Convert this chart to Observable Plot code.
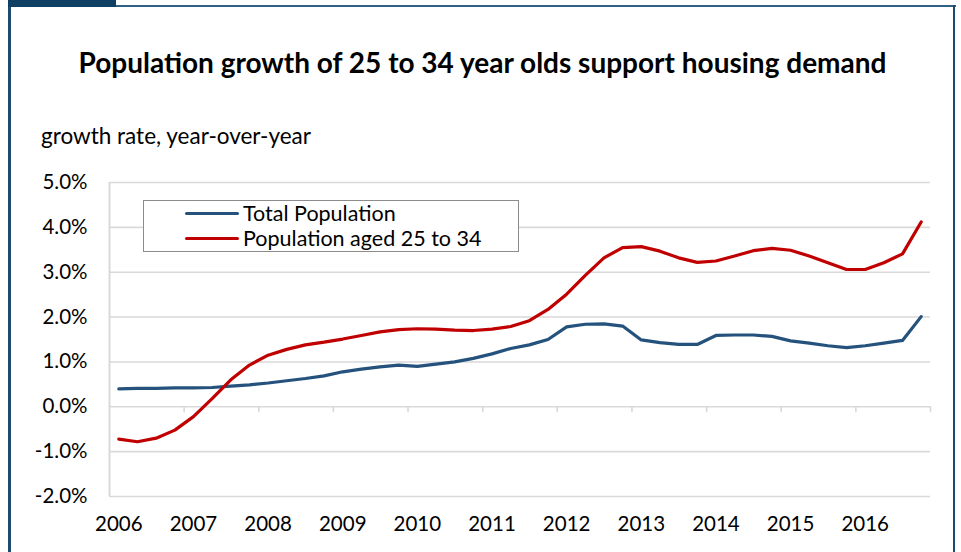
<!DOCTYPE html>
<html>
<head>
<meta charset="utf-8">
<script src="https://cdn.jsdelivr.net/npm/d3@7"></script>
<script src="https://cdn.jsdelivr.net/npm/@observablehq/plot@0.6"></script>
<style>
  html, body { margin: 0; padding: 0; background: #fff; }
  #wrap { position: relative; width: 961px; height: 552px; overflow: hidden; font-family: Lato, "Open Sans", sans-serif; color: #000; }
  #wrap svg { position: absolute; left: 0; top: 0; }
  .frame-left { position: absolute; left: 8px; top: 5px; width: 3px; height: 560px; background: #1d4b6f; }
  .frame-top { position: absolute; left: 8px; top: 5px; width: 948px; height: 2px; background: #2f6186; }
  .frame-right { position: absolute; left: 953px; top: 5px; width: 2px; height: 560px; background: #1d4b6f; }
  .tab { position: absolute; left: 8px; top: 0; width: 108px; height: 7px; background: #0f3f63; }
  #title { position: absolute; left: 20px; width: 925px; top: 45px; text-align: center; font-weight: 700; font-size: 28px; white-space: nowrap; }
  #ylabel { position: absolute; left: 41px; top: 122px; font-size: 22.5px; white-space: nowrap; }
  #legend { position: absolute; left: 143px; top: 200px; width: 376px; height: 52px; border: 1px solid #8c8c8c; background: #fff; box-sizing: border-box; }
  .lg { position: absolute; left: 41px; font-size: 21.5px; line-height: 24px; display: flex; align-items: center; white-space: nowrap; }
  .lg span.sw { display: inline-block; width: 54px; height: 3px; margin-right: 4px; border-radius: 2px; }
</style>
</head>
<body>
<div id="wrap">
  <div class="frame-left"></div>
  <div class="frame-top"></div>
  <div class="frame-right"></div>
  <div class="tab"></div>
  <div id="title">Population growth of 25 to 34 year olds support housing demand</div>
  <div id="ylabel">growth rate, year-over-year</div>
</div>
<script>
// Tick labels
const years = ["2006","2007","2008","2009","2010","2011","2012","2013","2014","2015","2016"];
const yTicks = [-2, -1, 0, 1, 2, 3, 4, 5];
const seriesNames = ["Total Population", "Population aged 25 to 34"];
const seriesColors = ["#24527c", "#c00000"];

// Quarterly growth rates (%), 2006Q1 .. 2016Q4
const totalPopulation = [
  0.40, 0.41, 0.41, 0.42, 0.42, 0.43, 0.46, 0.49, 0.53, 0.58, 0.63,
  0.69, 0.78, 0.84, 0.89, 0.93, 0.90, 0.95, 1.00, 1.08, 1.18, 1.30,
  1.38, 1.50, 1.78, 1.84, 1.85, 1.80, 1.49, 1.43, 1.39, 1.39, 1.59,
  1.60, 1.60, 1.57, 1.47, 1.42, 1.36, 1.32, 1.36, 1.42, 1.48, 2.01
];
const aged25to34 = [
  -0.72, -0.78, -0.70, -0.52, -0.22, 0.18, 0.60, 0.93, 1.15, 1.28, 1.38,
  1.44, 1.51, 1.59, 1.67, 1.72, 1.74, 1.73, 1.71, 1.70, 1.73, 1.79,
  1.92, 2.17, 2.51, 2.93, 3.32, 3.55, 3.57, 3.47, 3.32, 3.22, 3.25,
  3.36, 3.48, 3.53, 3.49, 3.36, 3.21, 3.06, 3.06, 3.21, 3.41, 4.12
];

const rows = [];
totalPopulation.forEach((v, i) => rows.push({i, value: v, series: seriesNames[0]}));
aged25to34.forEach((v, i) => rows.push({i, value: v, series: seriesNames[1]}));

const nQ = totalPopulation.length;
const boundaries = d3.range(nQ / 4 + 1).map(k => k * 4 - 0.5);
const labelPos = years.map((y, k) => k * 4);

const chart = Plot.plot({
  width: 961,
  height: 552,
  marginLeft: 109,
  marginRight: 31,
  marginTop: 182,
  marginBottom: 56,
  style: { fontFamily: "Lato, 'Open Sans', sans-serif", background: "transparent", color: "#000" },
  x: { domain: [-0.5, nQ - 0.5], axis: null },
  y: { domain: [-2, 5], axis: null },
  color: { domain: seriesNames, range: seriesColors },
  marks: [
    Plot.ruleY(yTicks, { stroke: "#d9d9d9", strokeWidth: 1.6 }),
    Plot.ruleX([-0.5], { stroke: "#d9d9d9", strokeWidth: 2 }),
    Plot.ruleX(boundaries.slice(1), { y1: 0, y2: 0, insetBottom: -6, stroke: "#d9d9d9", strokeWidth: 1.6 }),
    Plot.axisY(yTicks, { label: null, tickSize: 0, tickPadding: 22, tickFormat: d => d.toFixed(1) + "%", fontSize: 20.5 }),
    Plot.axisX(labelPos, { label: null, tickSize: 0, tickPadding: 20, tickFormat: (d, k) => years[k], fontSize: 20.5 }),
    Plot.line(rows, { x: "i", y: "value", stroke: "series", z: "series", strokeWidth: 3.2, strokeLinejoin: "round", strokeLinecap: "round" })
  ]
});
document.getElementById("wrap").appendChild(chart);

// Legend
const legend = document.createElement("div");
legend.id = "legend";
seriesNames.forEach((name, k) => {
  const item = document.createElement("div");
  item.className = "lg";
  item.style.top = (k === 0 ? 0 : 25) + "px";
  const sw = document.createElement("span");
  sw.className = "sw";
  sw.style.background = seriesColors[k];
  item.appendChild(sw);
  item.appendChild(document.createTextNode(name));
  legend.appendChild(item);
});
document.getElementById("wrap").appendChild(legend);
</script>
</body>
</html>
